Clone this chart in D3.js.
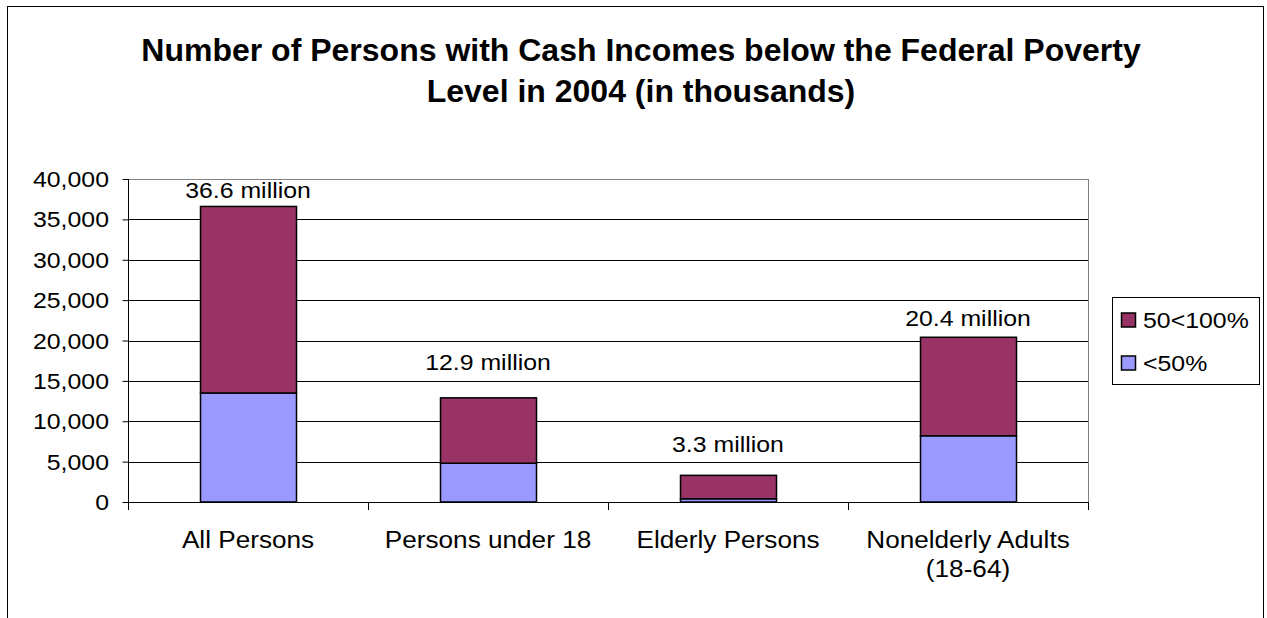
<!DOCTYPE html>
<html>
<head>
<meta charset="utf-8">
<script src="https://cdn.jsdelivr.net/npm/d3@7"></script>
<style>
  html, body { margin: 0; padding: 0; background: #fff; }
  svg { display: block; font-family: "Liberation Sans", Arial, sans-serif; }
</style>
</head>
<body>
<svg id="chart" width="1267" height="618"></svg>
<script>
// Poverty counts, thousands of persons, 2004
const categories = [["All Persons"], ["Persons under 18"], ["Elderly Persons"], ["Nonelderly Adults", "(18-64)"]];
const seriesNames = ["<50%", "50<100%"];
const below50 = [13500, 4800, 400, 8200];
const from50to100 = [23100, 8100, 2900, 12200];
const totalLabels = ["36.6 million", "12.9 million", "3.3 million", "20.4 million"];
const yTicks = [0, 5000, 10000, 15000, 20000, 25000, 30000, 35000, 40000];

const colors = { "<50%": "#9999ff", "50<100%": "#993366" };
// vertical gap between each total label baseline and its bar top
const labelLift = [8, 28, 23, 11];

const svg = d3.select("#chart");

// text helper: the chart's labels are set slightly wide
function label(sel, x, y, str, opts = {}) {
  const sx = opts.sx || 1.13;
  return sel.append("text")
    .attr("transform", `translate(${x},${y}) scale(${sx},1)`)
    .attr("text-anchor", opts.anchor || "middle")
    .attr("font-size", opts.size || 22)
    .attr("fill", "#000")
    .text(str);
}

// outer frame
svg.append("rect").attr("x", 7.5).attr("y", 6.5).attr("width", 1256).attr("height", 640)
  .attr("fill", "#fff").attr("stroke", "#000").attr("stroke-width", 1);

// title
const title = svg.append("text").attr("text-anchor", "middle")
  .attr("font-weight", "bold").attr("font-size", 32).attr("fill", "#000");
title.append("tspan").attr("x", 641).attr("y", 61).text("Number of Persons with Cash Incomes below the Federal Poverty");
title.append("tspan").attr("x", 641).attr("y", 102).text("Level in 2004 (in thousands)");

const plot = { left: 128, right: 1088, top: 179, bottom: 502 };

const x = d3.scaleBand().domain(d3.range(categories.length))
  .range([plot.left, plot.right]).paddingInner(0.6).paddingOuter(0.3);
const y = d3.scaleLinear().domain([0, 40000]).range([plot.bottom, plot.top]);

// gridlines
svg.append("g").selectAll("line").data(yTicks.filter(d => d > 0)).join("line")
  .attr("x1", plot.left).attr("x2", plot.right)
  .attr("y1", d => Math.round(y(d)) + 0.5).attr("y2", d => Math.round(y(d)) + 0.5)
  .attr("stroke", d => d === 40000 ? "#808080" : "#000").attr("stroke-width", 1);

// plot area right edge
svg.append("line").attr("x1", plot.right + 0.5).attr("x2", plot.right + 0.5)
  .attr("y1", plot.top).attr("y2", plot.bottom).attr("stroke", "#808080");

// stacked bars
const rows = categories.map((c, i) => ({ i, "<50%": below50[i], "50<100%": from50to100[i] }));
const stacked = d3.stack().keys(seriesNames)(rows);
svg.append("g").selectAll("g").data(stacked).join("g")
  .attr("fill", d => colors[d.key])
  .selectAll("rect").data(d => d).join("rect")
  .attr("x", d => x(d.data.i) + 0.5)
  .attr("width", x.bandwidth())
  .attr("y", d => y(d[1]))
  .attr("height", d => y(d[0]) - y(d[1]))
  .attr("stroke", "#000").attr("stroke-width", 1.5);

// total labels
const totals = svg.append("g");
rows.forEach(d => {
  label(totals, x(d.i) + x.bandwidth() / 2,
        y(below50[d.i] + from50to100[d.i]) - labelLift[d.i], totalLabels[d.i]);
});

// y axis
const yAxis = svg.append("g").attr("transform", `translate(${plot.left + 0.5},0)`)
  .call(d3.axisLeft(y).tickValues(yTicks).tickSize(6).tickFormat(""));
yAxis.select(".domain").attr("stroke", "#000").attr("d", `M-0,${plot.top}V${plot.bottom + 0.5}`);
yAxis.selectAll(".tick line").attr("stroke", "#000");
const fmt = d3.format(",");
const yLabels = svg.append("g");
yTicks.forEach(v => {
  label(yLabels, 109, y(v) + 8, fmt(v), { anchor: "end" });
});

// x axis baseline and category separators
const xAxis = svg.append("g");
xAxis.append("line").attr("x1", plot.left).attr("x2", plot.right + 1)
  .attr("y1", plot.bottom + 0.5).attr("y2", plot.bottom + 0.5).attr("stroke", "#000");
const step = (plot.right - plot.left) / categories.length;
xAxis.selectAll(".sep").data(d3.range(categories.length + 1)).join("line")
  .attr("x1", d => Math.round(plot.left + d * step) + 0.5).attr("x2", d => Math.round(plot.left + d * step) + 0.5)
  .attr("y1", plot.bottom).attr("y2", plot.bottom + 8).attr("stroke", "#000");

categories.forEach((lines, i) => {
  lines.forEach((ln, k) => {
    label(xAxis, x(i) + x.bandwidth() / 2, 548 + k * 29, ln, { size: 24, sx: 1.09 });
  });
});

// legend
const lg = svg.append("g").attr("transform", "translate(1112,297)");
lg.append("rect").attr("x", 0.5).attr("y", 0.5).attr("width", 147).attr("height", 87)
  .attr("fill", "#fff").attr("stroke", "#000");
const legendOrder = ["50<100%", "<50%"];
legendOrder.forEach((k, j) => {
  const yy = 23 + j * 43;
  lg.append("rect").attr("x", 9.5).attr("y", yy - 7).attr("width", 14).attr("height", 14)
    .attr("fill", colors[k]).attr("stroke", "#000").attr("stroke-width", 1.5);
  label(lg, 31, yy + 8, k, { anchor: "start" });
});
</script>
</body>
</html>
